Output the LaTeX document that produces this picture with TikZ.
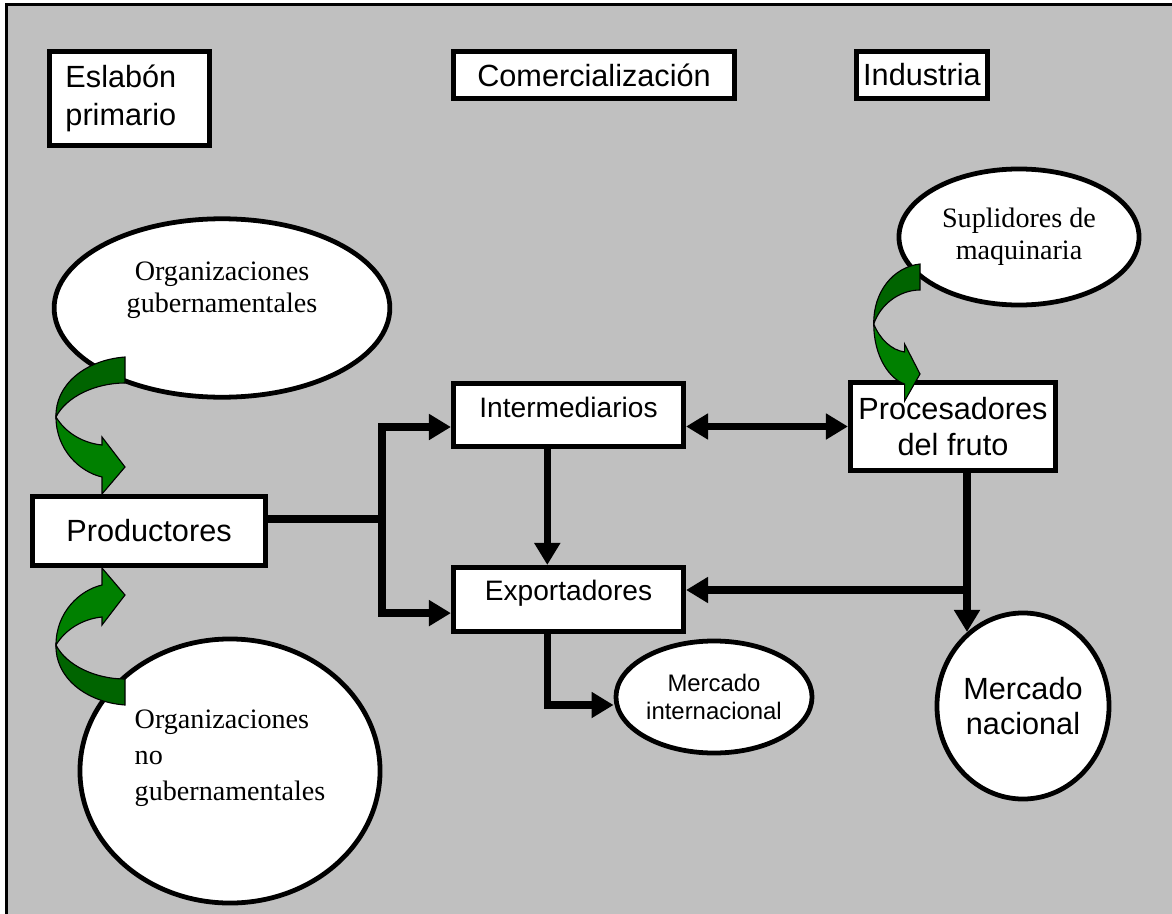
\documentclass[tikz,border=0pt]{standalone}
\usepackage{fontspec}
\setmainfont{Liberation Sans}
\newfontfamily\timesfont{Liberation Serif}
\usetikzlibrary{
  arrows.meta,
  shapes.geometric
}
\definecolor{panelgray}{RGB}{192,192,192}
\definecolor{darkleaf}{RGB}{0,100,0}
\definecolor{leaf}{RGB}{0,128,0}

\begin{document}
\begin{tikzpicture}[
  x=0.025cm, y=-0.025cm,
  box/.style={
    rectangle,
    draw=black,
    fill=white,
    line width=3.6pt,
    minimum width=#1,
    align=center,
    inner sep=2pt,
    font=\fontsize{21.8}{25}\selectfont,
  },
  box/.default=5.75cm,
  bubble/.style={
    ellipse,
    draw=black,
    fill=white,
    line width=3.4pt,
    align=center,
    inner sep=0pt,
    font=\timesfont\fontsize{20}{23}\selectfont,
  },
  oval/.style={
    bubble,
    font=\fontsize{21.8}{25}\selectfont,
  },
  arrow/.style={-{Triangle[length=0.55cm, width=0.62cm]}, line width=5.3pt},
  dblarrow/.style={arrow, {Triangle[length=0.55cm, width=0.62cm]}-{Triangle[length=0.55cm, width=0.62cm]}},
  link/.style={line width=5.3pt},
  bendarrow/.pic={
    \filldraw[fill=darkleaf, draw=black, line width=0.8pt]
      (0,-13) .. controls (-40,-10) and (-70,15) .. (-69,47)
      .. controls (-59,27) and (-30,13) .. (0,13) -- cycle;
    \filldraw[fill=leaf, draw=black, line width=0.8pt]
      (-69,47) .. controls (-69,80) and (-45,102) .. (-23,107)
      -- (-23,124) -- (0,97) -- (-23,67) -- (-23,75)
      .. controls (-43,73) and (-60,62) .. (-69,47) -- cycle;
  },
]

\useasboundingbox (0,0) rectangle (1172,914);

% ── Panel ──
\draw[fill=panelgray, line width=2pt] (6.5,4.5) rectangle (1200,940);

% ── Headers ──
\node[box=4.0cm, minimum height=2.35cm, text width=3.2cm, align=left, font=\fontsize{21.8}{26.5}\selectfont] (eslabon) at (129.5,98.5) {Eslabón\\primario};
\node[box=7.025cm, minimum height=1.175cm] (comercial) at (594,75) {Comercialización};
\node[box=3.275cm, minimum height=1.175cm] (industria) at (922,75) {Industria};

% ── Eslabón primario ──
\node[bubble, minimum width=8.39cm, minimum height=4.46cm, text depth=30pt] (gob) at (222,308) {Organizaciones\\gubernamentales};
\node[box=5.825cm, minimum height=1.725cm] (prod) at (149,531) {Productores};
\node[bubble, minimum width=7.5cm, minimum height=6.6cm, align=left, text depth=23pt, font=\timesfont\fontsize{20}{25.5}\selectfont] (ong) at (230,771) {Organizaciones\\no\\gubernamentales};

% ── Comercialización ──
\node[box, minimum height=1.575cm, text depth=11.4pt, font=\fontsize{20}{23}\selectfont] (inter) at (568.5,415) {Intermediarios};
\node[box, minimum height=1.6cm, text depth=12.8pt, font=\fontsize{20}{23}\selectfont] (export) at (568.5,599.5) {Exportadores};
\node[oval, minimum width=4.9cm, minimum height=2.8cm, font=\fontsize{17}{20.5}\selectfont] (merint) at (714,697) {Mercado\\internacional};

% ── Industria ──
\node[bubble, minimum width=6.0cm, minimum height=3.4cm] (supl) at (1019,237) {Suplidores de\\maquinaria};
\node[box=5.125cm, minimum height=2.2cm] (proc) at (953,426.5) {Procesadores\\del fruto};
\node[oval, minimum width=4.3cm, minimum height=4.65cm] (mernac) at (1023,706) {Mercado\\nacional};

% ── Connectors ──
\coordinate (split) at (382,519);
\coordinate (merge) at (967,590);
\draw[link] (prod.east |- split) -- (split);
\draw[arrow] (split) |- ([yshift=-0.3cm]inter.west);
\draw[arrow] (split) |- ([yshift=-0.34cm]export.west);
\draw[arrow] ([xshift=-0.53cm]inter.south) -- ([xshift=-0.53cm]export.north);
\draw[dblarrow] (inter.east |- proc.west) -- (proc.west);
\draw[arrow] (merge |- proc.south) -- (merge |- mernac.127);
\draw[arrow] (merge) -- (merge -| export.east);
\draw[arrow] ([xshift=-0.53cm]export.south) |- ([yshift=-0.2cm]merint.west);

% ── Green bent arrows ──
\pic at (125,370) {bendarrow};
\pic[yscale=-1] at (125,692) {bendarrow};
\pic[xscale=0.67] at (920,277) {bendarrow};

\end{tikzpicture}
\end{document}
